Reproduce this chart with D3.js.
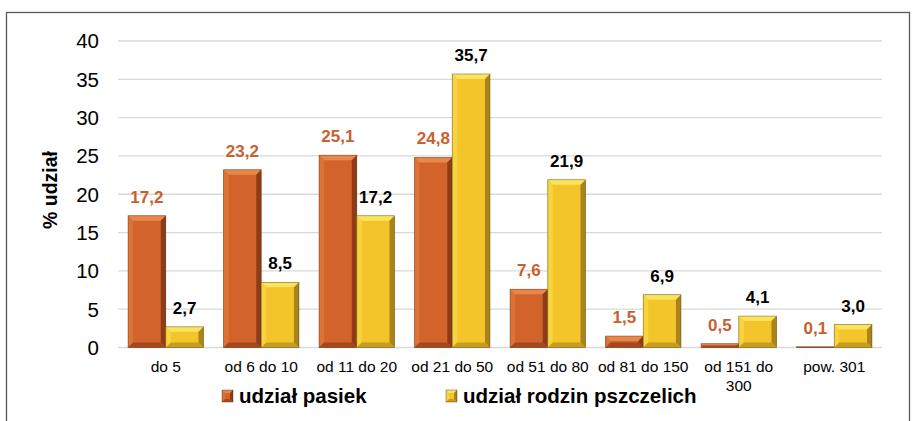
<!DOCTYPE html>
<html><head><meta charset="utf-8">
<script src="https://cdn.jsdelivr.net/npm/d3@7"></script>
<style>body{margin:0;background:#fff;} svg{display:block;font-family:"Liberation Sans", Arial, sans-serif;}</style>
</head><body>
<script>
const categories = ["do 5","od 6 do 10","od 11 do 20","od 21 do 50","od 51 do 80","od 81 do 150","od 151 do 300","pow. 301"];
const pasiek = [17.2, 23.2, 25.1, 24.8, 7.6, 1.5, 0.5, 0.1];
const rodzin = [2.7, 8.5, 17.2, 35.7, 21.9, 6.9, 4.1, 3.0];
const yTicks = [0,5,10,15,20,25,30,35,40];
const seriesNames = ["udział pasiek","udział rodzin pszczelich"];

const W = 917, H = 421;
const svg = d3.select("body").append("svg").attr("width", W).attr("height", H);
svg.append("rect").attr("x",6.5).attr("y",12.5).attr("width",903).attr("height",430)
  .attr("fill","none").attr("stroke","#595959").attr("stroke-width",1.3);

const x0 = d3.scaleBand().domain(categories).range([118, 882]).paddingInner(0.21).paddingOuter(0.105);
const x1 = d3.scaleBand().domain([0,1]).range([0, x0.bandwidth()]);
const y = d3.scaleLinear().domain([0,40]).range([347.5, 41]);

// gridlines
svg.append("g").selectAll("line").data(yTicks).join("line")
  .attr("x1",118).attr("x2",882).attr("y1",d=>y(d)).attr("y2",d=>y(d))
  .attr("stroke","#d9d9d9").attr("stroke-width",1.3);

// y tick labels
svg.append("g").selectAll("text").data(yTicks).join("text")
  .attr("x",99).attr("y",d=>y(d)).attr("dy","0.36em").attr("text-anchor","end")
  .attr("font-size",20.5).attr("fill","#000").text(d=>d);

svg.append("text").attr("transform","translate(57,190) rotate(-90)")
  .attr("text-anchor","middle").attr("font-size",19.5).attr("font-weight","bold").text("% udział");

const palettes = [
  {face:"#D2642B", top:"#E8874A", left:"#DB7335", right:"#8E3C17", bottom:"#A5491C", label:"#C8602E"},
  {face:"#F3C52B", top:"#FBE35E", left:"#F7D33F", right:"#A98418", bottom:"#C89D1E", label:"#000"}
];

function bevelBar(g, bx, by, bw, bh, p, bmax){
  if (bh <= 0) return;
  const b = Math.min(bmax, bh/2, bw/2);
  const xr = bx+bw, yb = by+bh;
  g.append("rect").attr("x",bx).attr("y",by).attr("width",bw).attr("height",bh).attr("fill",p.face);
  const poly = pts => g.append("polygon").attr("points", pts.map(q=>q.join(",")).join(" "));
  poly([[bx,by],[xr,by],[xr-b,by+b],[bx+b,by+b]]).attr("fill",p.top);
  poly([[bx,by],[bx+b,by+b],[bx+b,yb-b],[bx,yb]]).attr("fill",p.left);
  poly([[xr,by],[xr,yb],[xr-b,yb-b],[xr-b,by+b]]).attr("fill",p.right);
  poly([[bx,yb],[bx+b,yb-b],[xr-b,yb-b],[xr,yb]]).attr("fill",p.bottom);
  g.append("rect").attr("x",bx).attr("y",by).attr("width",bw).attr("height",bh)
    .attr("fill","none").attr("stroke","rgba(60,30,10,0.45)").attr("stroke-width",0.8);
}

const series = [pasiek, rodzin];
const gBars = svg.append("g");
series.forEach((vals, si) => {
  vals.forEach((v, i) => {
    const bx = x0(categories[i]) + x1(si);
    const bw = x1.bandwidth();
    const by = y(v);
    bevelBar(gBars, bx, by, bw, y(0)-by, palettes[si], 5);
    gBars.append("text").attr("x", bx + bw/2).attr("y", by - 13)
      .attr("text-anchor","middle").attr("font-size",17).attr("font-weight","bold")
      .attr("fill", palettes[si].label).text(v.toFixed(1).replace(".", ","));
  });
});

// x labels
const xl = svg.append("g");
categories.forEach(c => {
  const cx = x0(c) + x0.bandwidth()/2;
  let lines = [c];
  if (c === "od 151 do 300") lines = ["od 151 do","300"];
  lines.forEach((ln, k) => {
    xl.append("text").attr("x",cx).attr("y",371.5 + k*19).attr("text-anchor","middle")
      .attr("font-size",15.5).attr("fill","#000").text(ln);
  });
});

// legend
const legX = [222, 446];
seriesNames.forEach((n, i) => {
  const lg = svg.append("g");
  bevelBar(lg, legX[i], 390, 11, 12, palettes[i], 3);
  lg.append("text").attr("x", legX[i] + 17).attr("y", 403).attr("font-size",20.5)
    .attr("font-weight","bold").attr("fill","#000").text(n);
});
</script>
</body></html>
